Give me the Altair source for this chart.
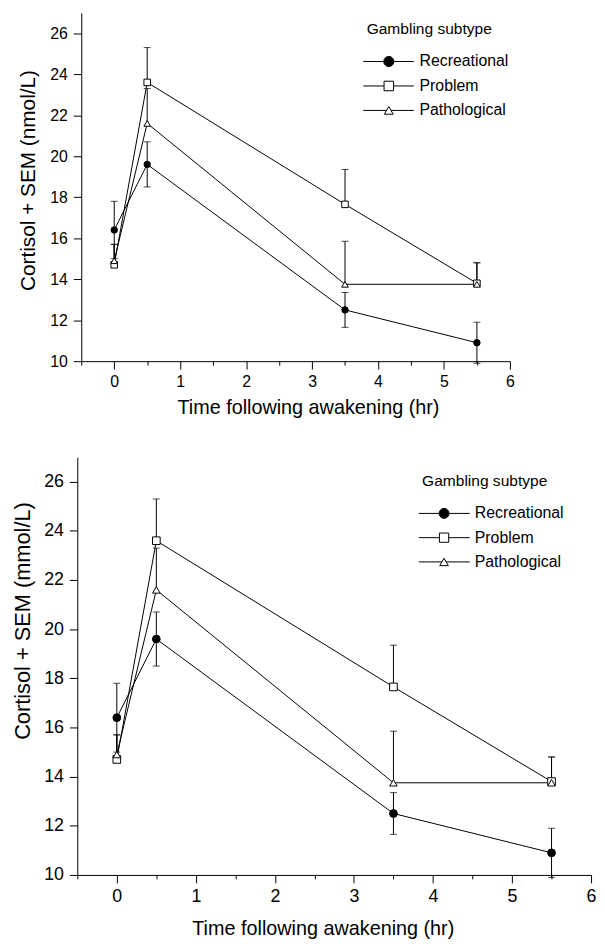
import altair as alt
import pandas as pd

times = [0, 0.5, 3.5, 5.5]
series = ["Recreational", "Problem", "Pathological"]
recreational_mean = [16.4, 19.6, 12.5, 10.9]
recreational_sem = [1.4, 1.1, 0.85, 1.0]
problem_mean = [14.7, 23.6, 17.65, 13.8]
problem_sem = [1.0, 1.7, 1.7, 1.0]
pathological_mean = [14.9, 21.6, 13.75, 13.75]
pathological_sem = [0.8, 1.7, 2.1, 1.05]
two_sided = {"Recreational": True, "Problem": False, "Pathological": False}

y_ticks = list(range(10, 28))
x_ticks = [-0.5, 0, 0.5, 1, 1.5, 2, 2.5, 3, 3.5, 4, 4.5, 5, 5.5, 6]
legend_title = "Gambling subtype"
x_title = "Time following awakening (hr)"

means = {"Recreational": recreational_mean, "Problem": problem_mean, "Pathological": pathological_mean}
sems = {"Recreational": recreational_sem, "Problem": problem_sem, "Pathological": pathological_sem}

rows, caps = [], []
for s in series:
    for t, m, e in zip(times, means[s], sems[s]):
        lo = m - e if two_sided[s] else m
        rows.append({"series": s, "time": t, "mean": m, "lo": lo, "hi": m + e})
        caps.append({"series": s, "time": t, "cap": m + e})
        if two_sided[s]:
            caps.append({"series": s, "time": t, "cap": m - e})
df = pd.DataFrame(rows)
cap_df = pd.DataFrame(caps)
leg_df = pd.DataFrame({"series": series, "rank": list(range(len(series)))})
title_df = pd.DataFrame({"t": [legend_title]})

FONT = "Liberation Sans"
shape_scale = alt.Scale(domain=series, range=["circle", "square", "triangle-up"])
fill_scale = alt.Scale(domain=series, range=["black", "white", "white"])


def panel(ytitle, w, h, p):
    xax = alt.Axis(values=x_ticks,
                   labelExpr="datum.value % 1 == 0 ? format(datum.value, 'd') : ''",
                   tickSize={"condition": {"test": "datum.value % 1 == 0", "value": 8}, "value": 4},
                   grid=False, domainColor="black", tickColor="black", labelColor="black",
                   labelFont=FONT, labelFontSize=p["tick_fs"], labelOverlap=False, labelFlush=False,
                   labelPadding=5, title=x_title, titleFont=FONT,
                   titleFontSize=p["xt_fs"], titleFontWeight="normal", titleColor="black",
                   titleBaseline="alphabetic", titleX=p["xt_x"], titleY=p["xt_y"], titleAlign="center")
    yax = alt.Axis(values=y_ticks, labelExpr="datum.value % 2 == 0 ? datum.label : ''",
                   tickSize={"condition": {"test": "datum.value % 2 == 0", "value": 8}, "value": 4},
                   grid=False, domainColor="black", tickColor="black", labelColor="black",
                   labelFont=FONT, labelFontSize=p["tick_fs"], labelOverlap=False, labelFlush=False,
                   labelPadding=6, title=ytitle, titleFont=FONT, titleFontSize=p["yt_fs"],
                   titleFontWeight="normal", titleColor="black", titleAngle=270,
                   titleBaseline="alphabetic", titleAlign="center",
                   titleX=p["yt_x"], titleY=p["yt_y"], offset=-p["shift"])
    X = alt.X("time:Q", scale=alt.Scale(domain=[-0.5, 6], nice=False, zero=False, range=[p["shift"], w]),
              axis=xax)
    base = alt.Chart(df)
    line = base.mark_line(color="black", strokeWidth=1).encode(
        x=X, y=alt.Y("mean:Q", scale=alt.Scale(domain=[10, 27], nice=False, zero=False), axis=yax),
        detail="series:N")
    err = base.mark_rule(color="black", strokeWidth=1).encode(x=X, y="lo:Q", y2="hi:Q")
    cap = alt.Chart(cap_df).mark_tick(color="black", orient="horizontal", size=7, thickness=1).encode(
        x=X, y="cap:Q")
    pts = base.mark_point(filled=True, stroke="black", strokeWidth=1, opacity=1).encode(
        x=X, y="mean:Q",
        shape=alt.Shape("series:N", scale=shape_scale, legend=None),
        fill=alt.Fill("series:N", scale=fill_scale, legend=None),
        size=alt.Size("series:N", scale=alt.Scale(domain=series, range=p["msize"]), legend=None))
    data_layer = alt.layer(line, err, cap, pts)

    LY = alt.Y("rank:Q", scale=alt.Scale(domain=[0, len(series) - 1], range=p["rows"], nice=False,
                                          zero=False), axis=None)
    lrule = alt.Chart(leg_df).mark_rule(color="black", strokeWidth=1).encode(
        x=alt.value(p["x0"]), x2=alt.value(p["x1"]), y=LY)
    lpt = alt.Chart(leg_df).mark_point(filled=True, stroke="black", strokeWidth=1, opacity=1).encode(
        x=alt.value(p["xc"]), y=LY,
        shape=alt.Shape("series:N", scale=shape_scale, legend=None),
        fill=alt.Fill("series:N", scale=fill_scale, legend=None),
        size=alt.Size("series:N", scale=alt.Scale(domain=series, range=p["lsize"]), legend=None))
    ltxt = alt.Chart(leg_df).mark_text(align="left", baseline="middle", font=FONT, fontSize=16,
                                       color="black").encode(x=alt.value(p["xt"]), y=LY, text="series:N")
    ltitle = alt.Chart(title_df).mark_text(align="left", baseline="middle", font=FONT, fontSize=15.7,
                                           color="black").encode(
        x=alt.value(p["tx"]), y=alt.value(p["ty"]), text="t:N")
    leg_layer = alt.layer(lrule, lpt, ltxt, ltitle)
    return alt.layer(data_layer, leg_layer).resolve_scale(
        y="independent", size="independent").properties(width=w, height=h)


top = panel("Cortisol + SEM (nmol/L)", 437, 352, {
    "shift": 4, "tick_fs": 16, "xt_fs": 20, "xt_x": 233, "xt_y": 53, "yt_fs": 21,
    "yt_x": -47.5, "yt_y": 169, "msize": [42, 45, 85], "lsize": [105, 80, 150],
    "rows": [49.3, 98.7], "x0": 289, "x1": 340, "xc": 314.7, "xt": 345.7, "tx": 292.3, "ty": 17})
bottom = panel("Cortisol + SEM (mmol/L)", 519, 422, {
    "shift": 0, "tick_fs": 18, "xt_fs": 20, "xt_x": 248, "xt_y": 60, "yt_fs": 22,
    "yt_x": -48.4, "yt_y": 165, "msize": [62, 58, 120], "lsize": [100, 75, 150],
    "rows": [56.8, 105.8], "x0": 345, "x1": 396.5, "xc": 370.5, "xt": 401.5, "tx": 348.3, "ty": 24})

chart = alt.vconcat(top, bottom, spacing=40,
                    padding={"left": 3, "top": 0, "right": 0, "bottom": 0}).configure_view(stroke=None)
chart.save("out.html", embed_options={"renderer": "svg", "actions": False})
